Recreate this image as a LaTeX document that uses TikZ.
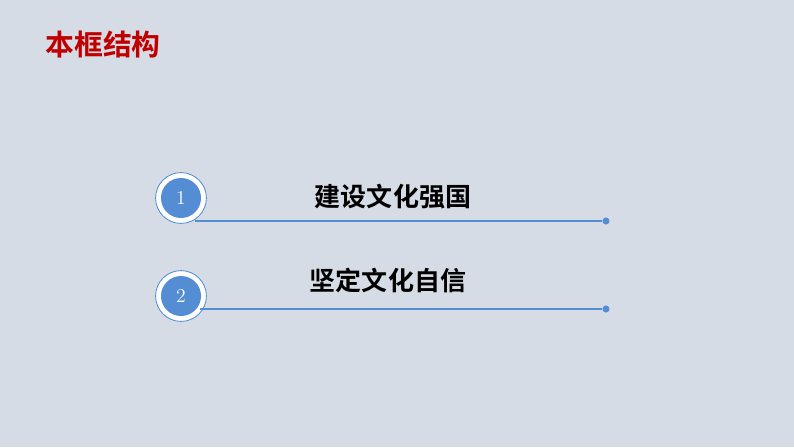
\documentclass[tikz,border=0pt]{standalone}
\usepackage{fontspec}
\newfontfamily\cjk{Noto Sans CJK SC Bold}
\definecolor{bg}{RGB}{214,220,229}
\definecolor{ballblue}{RGB}{84,141,212}
\definecolor{titlered}{RGB}{192,0,0}
\tikzset{
  ball/.style={circle, draw=ballblue, fill=white, line width=0.6pt, minimum size=1.27cm, inner sep=0pt},
  ballin/.style={circle, fill=ballblue, minimum size=1.0cm, inner sep=0pt, text=white, font=\fontsize{14}{14}\selectfont},
  topic/.style={font=\cjk\fontsize{18.5}{18.5}\selectfont},
  rule/.style={draw=ballblue, line width=0.8pt},
  tip/.style={circle, fill=ballblue, inner sep=0pt, minimum size=5pt}
}
\begin{document}
\begin{tikzpicture}[x=0.025cm,y=-0.025cm]
\fill[bg] (0,0) rectangle (794,447);
\node[font=\cjk\fontsize{20.5}{20.5}\selectfont, text=titlered] (title) at (103,45) {本框结构};
% first item
\node[ball] (b1) at (181,198) {};
\node[ballin] (n1) at (b1) {1};
\node[topic] (t1) at (393,197) {建设文化强国};
\coordinate (s1) at (195,221);
\node[tip] (e1) at (606,221) {};
\draw[rule] (s1) -- (e1);
% second item
\node[ball] (b2) at (181,296) {};
\node[ballin] (n2) at (b2) {2};
\node[topic] (t2) at (388,281) {坚定文化自信};
\coordinate (s2) at (200,309);
\node[tip] (e2) at (606,309) {};
\draw[rule] (s2) -- (e2);
\end{tikzpicture}
\end{document}
